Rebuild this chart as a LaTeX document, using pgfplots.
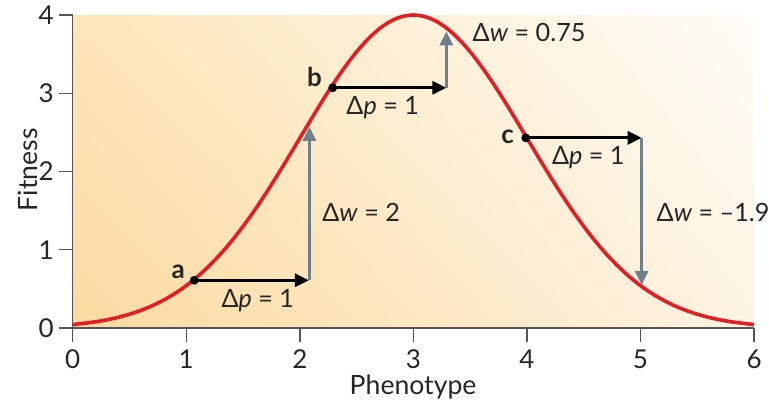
\documentclass[border=0pt]{standalone}
\usepackage{fontspec}
\setmainfont{Lato}
\usepackage{pgfplots}
\pgfplotsset{compat=1.18}
\usetikzlibrary{arrows.meta,shadings}
\definecolor{curvered}{RGB}{226,30,38}
\definecolor{slate}{RGB}{108,128,142}
\definecolor{axgray}{RGB}{85,85,85}
\definecolor{bgll}{RGB}{252,218,160}
\definecolor{bgul}{RGB}{253,230,186}
\definecolor{bglr}{RGB}{254,244,226}
\definecolor{bgur}{RGB}{255,253,249}
\begin{document}
\begin{tikzpicture}
\useasboundingbox (-36.35pt,-39.5pt) rectangle (348.15pt,164pt);
\begin{axis}[
  at={(0,0)}, anchor=south west,
  scale only axis, width=340.7pt, height=156.5pt,
  xmin=0, xmax=6, ymin=0, ymax=4,
  axis x line=bottom, axis y line=left,
  axis line style={-, draw=axgray, line width=0.7pt},
  xtick={0,1,2,3,4,5,6}, ytick={0,1,2,3,4},
  tick align=outside, major tick length=7pt,
  tick style={draw=axgray, line width=0.7pt},
  /pgf/number format/assume math mode=true,
  ticklabel style={font=\fontsize{13}{14}\selectfont, text=black!85},
  xticklabel style={yshift=-0.5pt},
  yticklabel style={xshift=1pt},
  xlabel={Phenotype}, ylabel={Fitness},
  label style={font=\fontsize{13.3}{15}\selectfont, text=black!85},
  xlabel style={at={(axis description cs:0.4995,-0.19)}, anchor=center},
  ylabel style={at={(axis description cs:-0.0656,0.505)}, anchor=center},
  axis background/.style={shade, lower left=bgll, upper left=bgul,
    lower right=bglr, upper right=bgur},
  clip=false,
]
% fitness curve
\addplot[curvered, line width=1.8pt, smooth] coordinates {
(0.0,0.044) (0.1,0.060) (0.2,0.079) (0.3,0.104) (0.4,0.136) (0.5,0.176)
(0.6,0.225) (0.7,0.284) (0.8,0.356) (0.9,0.441) (1.0,0.541) (1.1,0.658)
(1.2,0.792) (1.3,0.943) (1.4,1.112) (1.5,1.299) (1.6,1.501) (1.7,1.718)
(1.8,1.947) (1.9,2.184) (2.0,2.426) (2.1,2.668) (2.2,2.905) (2.3,3.131)
(2.4,3.341) (2.5,3.530) (2.6,3.692) (2.7,3.824) (2.8,3.921) (2.9,3.980)
(3.0,4.000)
(3.1,3.980) (3.2,3.921) (3.3,3.824) (3.4,3.692) (3.5,3.530) (3.6,3.341)
(3.7,3.131) (3.8,2.905) (3.9,2.668) (4.0,2.426) (4.1,2.184) (4.2,1.947)
(4.3,1.718) (4.4,1.501) (4.5,1.299) (4.6,1.112) (4.7,0.943) (4.8,0.792)
(4.9,0.658) (5.0,0.541) (5.1,0.441) (5.2,0.356) (5.3,0.284) (5.4,0.225)
(5.5,0.176) (5.6,0.136) (5.7,0.104) (5.8,0.079) (5.9,0.060) (6.0,0.044)
};
% horizontal arrows (delta p)
\addplot[black, line width=1.5pt, -{Triangle[length=7pt,width=6.5pt]}] coordinates {(1.07,0.61) (2.08,0.61)};
\addplot[black, line width=1.5pt, -{Triangle[length=7pt,width=6.5pt]}] coordinates {(2.29,3.07) (3.29,3.07)};
\addplot[black, line width=1.5pt, -{Triangle[length=7pt,width=6.5pt]}] coordinates {(3.99,2.43) (5.01,2.43)};
% vertical arrows (delta w)
\addplot[slate, line width=1.5pt, -{Triangle[length=7pt,width=6.5pt]}] coordinates {(2.085,0.61) (2.085,2.57)};
\addplot[slate, line width=1.5pt, -{Triangle[length=7pt,width=6.5pt]}] coordinates {(3.29,3.07) (3.29,3.79)};
\addplot[slate, line width=1.5pt, -{Triangle[length=7pt,width=6.5pt]}] coordinates {(5.01,2.43) (5.01,0.55)};
% dots
\addplot[only marks, mark=*, mark size=2pt, black] coordinates {(1.07,0.61) (2.29,3.07) (3.99,2.43)};
% labels
\begin{scope}[every node/.style={font=\fontsize{12.6}{14}\selectfont, text=black!85}]
\node[font=\fontsize{13}{14}\selectfont\bfseries] at (axis cs:0.93,0.72) {a};
\node[font=\fontsize{13}{14}\selectfont\bfseries] at (axis cs:2.13,3.21) {b};
\node[font=\fontsize{13}{14}\selectfont\bfseries] at (axis cs:3.83,2.44) {c};
\node at (axis cs:1.63,0.35) {Δ\textit{p} = 1};
\node at (axis cs:2.73,2.82) {Δ\textit{p} = 1};
\node at (axis cs:4.54,2.18) {Δ\textit{p} = 1};
\node at (axis cs:2.54,1.48) {Δ\textit{w} = 2};
\node[anchor=west] at (axis cs:3.46,3.78) {Δ\textit{w} = 0.75};
\node[anchor=west] at (axis cs:5.08,1.48) {Δ\textit{w} = –1.9};
\end{scope}
\end{axis}
\end{tikzpicture}
\end{document}
